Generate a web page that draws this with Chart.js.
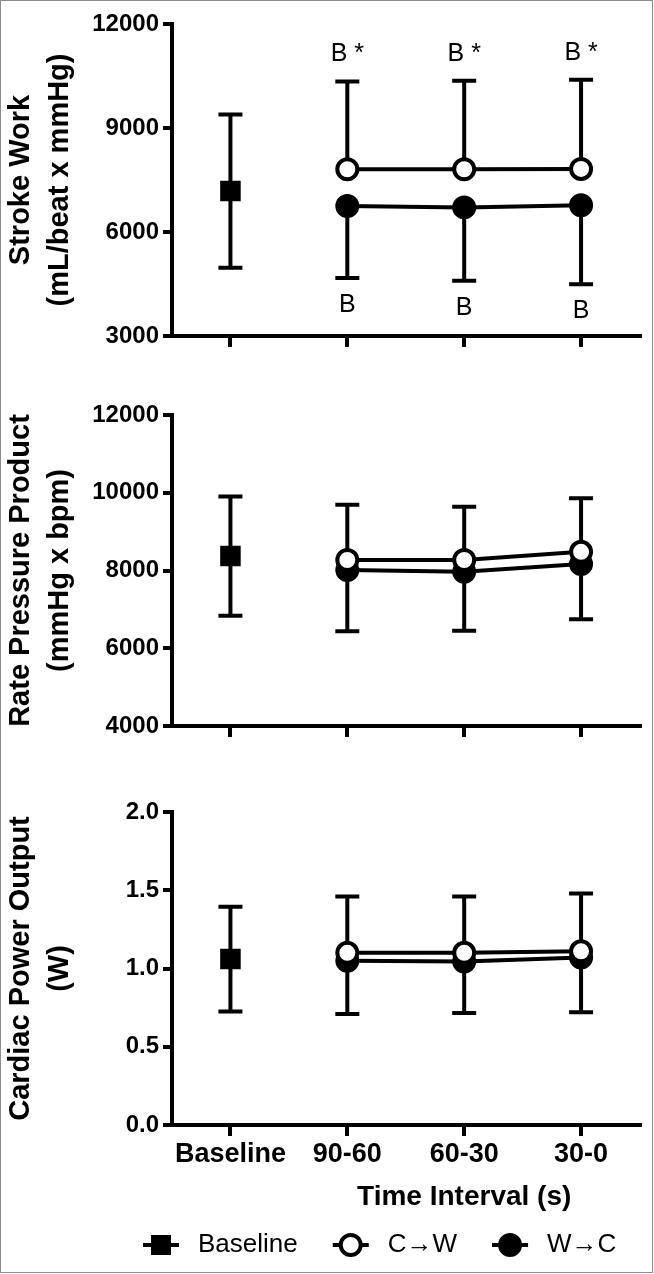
<!DOCTYPE html>
<html>
<head>
<meta charset="utf-8">
<script src="https://cdn.jsdelivr.net/npm/chart.js@4.4.1/dist/chart.umd.min.js"></script>
<style>
  body { margin: 0; background: #fff; }
  #wrap { position: relative; width: 654px; height: 1274px; overflow: hidden; }
  .panel { position: absolute; left: 0; }
  #frame { position: absolute; left: 0; top: 0; width: 651px; height: 1271px; border: 1px solid #8c8c8c; pointer-events: none; }
</style>
</head>
<body>
<div id="wrap">
  <canvas id="swChart" class="panel" style="top:0" width="654" height="360"></canvas>
  <canvas id="rppChart" class="panel" style="top:380px" width="654" height="370"></canvas>
  <canvas id="cpoChart" class="panel" style="top:770px" width="654" height="495"></canvas>
  <div id="frame"></div>
</div>
<script>
// Categories on the x axis
const categories = ['Baseline', '90-60', '60-30', '30-0'];

// Stroke Work (mean and SD)
const swBaseline = [7180];
const swBaselineSD = [2210];
const swCW = [7810, 7810, 7820];
const swCWSD = [2530, 2555, 2575];
const swWC = [6750, 6710, 6770];
const swWCSD = [2077, 2114, 2280];
const swTicks = [3000, 6000, 9000, 12000];
// significance labels above / below the error bars
const swCWNotes = ['B *', 'B *', 'B *'];
const swWCNotes = ['B', 'B', 'B'];

// Rate Pressure Product
const rppBaseline = [8370];
const rppBaselineSD = [1535];
const rppCW = [8270, 8270, 8480];
const rppCWSD = [1420, 1370, 1380];
const rppWC = [8010, 7970, 8170];
const rppWCSD = [1570, 1520, 1425];
const rppTicks = [4000, 6000, 8000, 10000, 12000];

// Cardiac Power Output
const cpoBaseline = [1.06];
const cpoBaselineSD = [0.335];
const cpoCW = [1.10, 1.10, 1.11];
const cpoCWSD = [0.36, 0.36, 0.37];
const cpoWC = [1.05, 1.045, 1.07];
const cpoWCSD = [0.34, 0.33, 0.35];
const cpoTicks = [0, 0.5, 1.0, 1.5, 2.0];

const FONT = "'Liberation Sans', Arial, Helvetica, sans-serif";

/**
 * Error bars (drawn under the markers) + optional text notes
 */
const errorBars = {
    id: 'errorBars',
    beforeDatasetsDraw(chart) {
        const ctx = chart.ctx;
        const xs = chart.scales.x;
        const ys = chart.scales.y;
        ctx.save();
        ctx.strokeStyle = '#000';
        ctx.lineWidth = 4;
        chart.data.datasets.forEach(ds => {
            ds.data.forEach((p, i) => {
                const x = xs.getPixelForValue(p.x);
                const up = ds.errDir !== 'down';
                const down = ds.errDir !== 'up';
                const yHi = ys.getPixelForValue(up ? p.y + ds.err[i] : p.y);
                const yLo = ys.getPixelForValue(down ? p.y - ds.err[i] : p.y);
                ctx.beginPath();
                ctx.moveTo(x, yHi);
                ctx.lineTo(x, yLo);
                if (up) { ctx.moveTo(x - 12, yHi); ctx.lineTo(x + 12, yHi); }
                if (down) { ctx.moveTo(x - 12, yLo); ctx.lineTo(x + 12, yLo); }
                ctx.stroke();

                if (ds.notes) {
                    ctx.fillStyle = '#000';
                    ctx.font = '25px ' + FONT;
                    ctx.textAlign = 'center';
                    ctx.textBaseline = 'middle';
                    const ty = up && !down ? yHi - 27 : yLo + 27;
                    ctx.fillText(ds.notes[i], x, ty);
                }
            });
        });
        ctx.restore();
    }
};

/**
 * x axis title and legend under the last panel
 */
const bottomExtras = {
    id: 'bottomExtras',
    afterDraw(chart, args, opts) {
        if (!opts.show) return;
        const ctx = chart.ctx;
        const area = chart.chartArea;
        const xs = chart.scales.x;
        ctx.save();
        ctx.fillStyle = '#000';
        ctx.textBaseline = 'middle';

        // axis title, centred over the three time intervals
        ctx.font = 'bold 28px ' + FONT;
        ctx.textAlign = 'center';
        ctx.fillText('Time Interval (s)', xs.getPixelForValue(2), area.bottom + 72);

        // legend
        const ly = area.bottom + 120;
        let lx = 143;
        ctx.font = '26px ' + FONT;
        ctx.textAlign = 'left';
        chart.data.datasets.forEach(ds => {
            const cx = lx + 18;
            ctx.strokeStyle = '#000';
            ctx.lineWidth = 4;
            ctx.beginPath();
            ctx.moveTo(lx, ly);
            ctx.lineTo(lx + 36, ly);
            ctx.stroke();
            if (ds.pointStyle === 'rect') {
                ctx.fillRect(cx - 10, ly - 10, 20, 20);
            } else {
                ctx.beginPath();
                ctx.arc(cx, ly, 10, 0, Math.PI * 2);
                ctx.fillStyle = ds.pointBackgroundColor;
                ctx.fill();
                ctx.stroke();
                ctx.fillStyle = '#000';
            }
            const tx = lx + 55;
            ctx.fillText(ds.label, tx, ly);
            lx = tx + ctx.measureText(ds.label).width + 35;
        });
        ctx.restore();
    }
};

function makeDatasets(base, baseSD, cw, cwSD, wc, wcSD, cwNotes, wcNotes) {
    return [
        {
            label: 'Baseline',
            data: base.map((v, i) => ({ x: i, y: v })),
            err: baseSD,
            errDir: 'both',
            showLine: false,
            pointStyle: 'rect',
            pointRadius: 14.5,
            pointBorderWidth: 0,
            pointBackgroundColor: '#000',
            borderColor: '#000',
            backgroundColor: '#000'
        },
        {
            label: 'C\u2192W',
            data: cw.map((v, i) => ({ x: i + 1, y: v })),
            err: cwSD,
            errDir: 'up',
            notes: cwNotes,
            pointStyle: 'circle',
            pointRadius: 10,
            pointBorderWidth: 4,
            pointBackgroundColor: '#fff',
            pointBorderColor: '#000',
            borderColor: '#000',
            borderWidth: 4,
            tension: 0
        },
        {
            label: 'W\u2192C',
            data: wc.map((v, i) => ({ x: i + 1, y: v })),
            err: wcSD,
            errDir: 'down',
            notes: wcNotes,
            pointStyle: 'circle',
            pointRadius: 10,
            pointBorderWidth: 4,
            pointBackgroundColor: '#000',
            pointBorderColor: '#000',
            borderColor: '#000',
            borderWidth: 4,
            tension: 0
        }
    ];
}

function makeOptions(cfg) {
    return {
        responsive: false,
        animation: false,
        events: [],
        layout: { padding: { top: cfg.padTop, right: 13, left: 0, bottom: 0 } },
        plugins: {
            legend: { display: false },
            tooltip: { enabled: false },
            bottomExtras: { show: cfg.showX }
        },
        scales: {
            x: {
                type: 'linear',
                min: -0.5,
                max: 3.5,
                afterBuildTicks: s => { s.ticks = categories.map((c, i) => ({ value: i })); },
                afterFit: s => { s.height = cfg.xHeight; },
                grid: { drawOnChartArea: false, drawTicks: true, tickLength: 11, lineWidth: 4, color: '#000' },
                border: { color: '#000', width: 4 },
                ticks: {
                    display: cfg.showX,
                    color: '#000',
                    font: { family: FONT, size: 27, weight: 'bold' },
                    padding: 2,
                    maxRotation: 0,
                    autoSkip: false,
                    callback: v => categories[v]
                }
            },
            y: {
                type: 'linear',
                min: cfg.ticks[0],
                max: cfg.ticks[cfg.ticks.length - 1],
                afterBuildTicks: s => { s.ticks = cfg.ticks.map(v => ({ value: v })); },
                afterFit: s => { s.width = 172; },
                grid: { drawOnChartArea: false, drawTicks: true, tickLength: 9, lineWidth: 4, color: '#000' },
                border: { color: '#000', width: 4 },
                ticks: {
                    color: '#000',
                    font: { family: FONT, size: 24, weight: 'bold' },
                    padding: 4,
                    callback: cfg.fmt
                },
                title: {
                    display: true,
                    text: cfg.title,
                    color: '#000',
                    font: { family: FONT, size: 29, weight: 'bold', lineHeight: 1.35 },
                    padding: { top: 1.5, bottom: 0 }
                }
            }
        }
    };
}

new Chart(document.getElementById('swChart'), {
    type: 'line',
    data: { datasets: makeDatasets(swBaseline, swBaselineSD, swCW, swCWSD, swWC, swWCSD, swCWNotes, swWCNotes) },
    options: makeOptions({
        padTop: 24, xHeight: 24, showX: false, ticks: swTicks,
        fmt: v => String(v), title: ['Stroke Work', '(mL/beat x mmHg)']
    }),
    plugins: [errorBars, bottomExtras]
});

new Chart(document.getElementById('rppChart'), {
    type: 'line',
    data: { datasets: makeDatasets(rppBaseline, rppBaselineSD, rppCW, rppCWSD, rppWC, rppWCSD) },
    options: makeOptions({
        padTop: 35, xHeight: 24, showX: false, ticks: rppTicks,
        fmt: v => String(v), title: ['Rate Pressure Product', '(mmHg x bpm)']
    }),
    plugins: [errorBars, bottomExtras]
});

new Chart(document.getElementById('cpoChart'), {
    type: 'line',
    data: { datasets: makeDatasets(cpoBaseline, cpoBaselineSD, cpoCW, cpoCWSD, cpoWC, cpoWCSD) },
    options: makeOptions({
        padTop: 42, xHeight: 140, showX: true, ticks: cpoTicks,
        fmt: v => v.toFixed(1), title: ['Cardiac Power Output', '(W)']
    }),
    plugins: [errorBars, bottomExtras]
});
</script>
</body>
</html>
